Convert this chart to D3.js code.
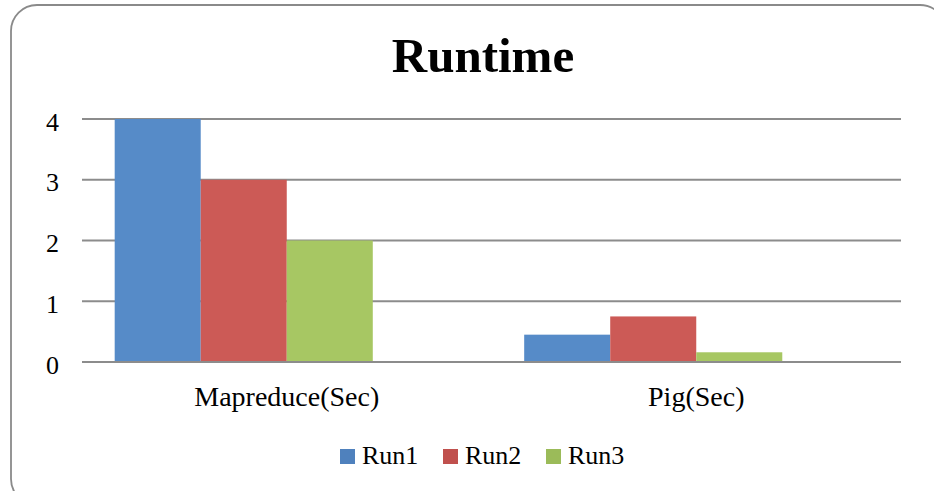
<!DOCTYPE html>
<html>
<head>
<meta charset="utf-8">
<script src="https://cdn.jsdelivr.net/npm/d3@7"></script>
<style>
  html, body { margin: 0; padding: 0; background: #fff; }
  svg { display: block; }
</style>
</head>
<body>
<svg id="chart" width="934" height="491"></svg>
<script>
// Chart data
const categories = ["Mapreduce(Sec)", "Pig(Sec)"];
const seriesNames = ["Run1", "Run2", "Run3"];
const run1 = [4, 0.45];
const run2 = [3, 0.75];
const run3 = [2, 0.16];
const yTicks = [0, 1, 2, 3, 4];
const title = "Runtime";

const seriesValues = [run1, run2, run3];
const barColors = ["#568BC8", "#CC5A56", "#A7C763"];
const legendColors = ["#4F81BD", "#C0504D", "#9BBB59"];
const serif = "'Liberation Serif', 'DejaVu Serif', serif";

const svg = d3.select("#chart");

// Rounded chart frame
svg.append("rect")
  .attr("x", 11).attr("y", 5)
  .attr("width", 935).attr("height", 500)
  .attr("rx", 26).attr("ry", 26)
  .attr("fill", "#fff")
  .attr("stroke", "#8a8a8a")
  .attr("stroke-width", 1.8);

const plot = { left: 82, right: 901, top: 119, bottom: 362 };

const x0 = d3.scaleBand()
  .domain(categories)
  .range([plot.left, plot.right])
  .paddingInner(0)
  .paddingOuter(0);

// Four slots per category; the last slot is left empty
const x1 = d3.scaleBand()
  .domain(d3.range(4))
  .range([0, x0.bandwidth()])
  .paddingInner(0)
  .paddingOuter(0.38);

const y = d3.scaleLinear()
  .domain([0, 4])
  .range([plot.bottom, plot.top]);

// Gridlines
svg.append("g")
  .selectAll("line")
  .data(yTicks)
  .join("line")
  .attr("x1", plot.left).attr("x2", plot.right)
  .attr("y1", d => y(d)).attr("y2", d => y(d))
  .attr("stroke", "#8c8c8c")
  .attr("stroke-width", 2);

// Bars
const groups = svg.append("g")
  .selectAll("g")
  .data(categories)
  .join("g")
  .attr("transform", c => `translate(${x0(c)},0)`);

groups.selectAll("rect")
  .data((c, ci) => seriesValues.map((vals, si) => ({ si, v: vals[ci] })))
  .join("rect")
  .attr("x", d => x1(d.si))
  .attr("width", x1.bandwidth())
  .attr("y", d => y(d.v))
  .attr("height", d => y(0) - y(d.v))
  .attr("fill", d => barColors[d.si]);

// Baseline redrawn over bars
svg.append("line")
  .attr("x1", plot.left).attr("x2", plot.right)
  .attr("y1", y(0)).attr("y2", y(0))
  .attr("stroke", "#8c8c8c")
  .attr("stroke-width", 2);

// Y axis labels
const yAxis = d3.axisLeft(y).tickValues(yTicks).tickFormat(d3.format("d")).tickSize(0).tickPadding(0);
const yG = svg.append("g")
  .attr("transform", `translate(59,0)`)
  .call(yAxis);
yG.select(".domain").remove();
yG.selectAll("text")
  .attr("font-family", serif)
  .attr("font-size", 26)
  .attr("fill", "#000")
  .attr("dy", 11);

// X axis labels
const xAxis = d3.axisBottom(x0).tickSize(0).tickPadding(0);
const xG = svg.append("g")
  .attr("transform", `translate(0,${plot.bottom})`)
  .call(xAxis);
xG.select(".domain").remove();
xG.selectAll("text")
  .attr("font-family", serif)
  .attr("font-size", 28)
  .attr("fill", "#000")
  .attr("dy", 0)
  .attr("y", 44);

// Title
svg.append("text")
  .attr("x", 483).attr("y", 72)
  .attr("text-anchor", "middle")
  .attr("font-family", serif)
  .attr("font-weight", "bold")
  .attr("font-size", 49)
  .attr("fill", "#000")
  .text(title);

// Legend
const legendX = [340, 443, 546];
const legend = svg.append("g")
  .selectAll("g")
  .data(seriesNames)
  .join("g")
  .attr("transform", (d, i) => `translate(${legendX[i]},449)`);
legend.append("rect")
  .attr("width", 15).attr("height", 15)
  .attr("fill", (d, i) => legendColors[i]);
legend.append("text")
  .attr("x", 22).attr("y", 15)
  .attr("font-family", serif)
  .attr("font-size", 26)
  .attr("fill", "#000")
  .text(d => d);
</script>
</body>
</html>
